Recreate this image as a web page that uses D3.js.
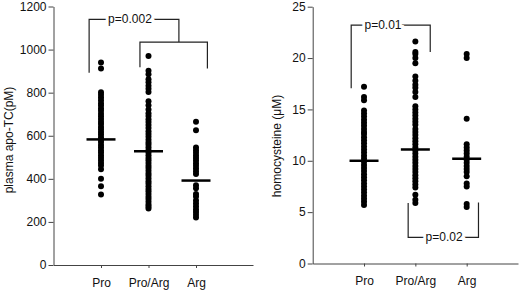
<!DOCTYPE html>
<html>
<head>
<meta charset="utf-8">
<script src="https://cdn.jsdelivr.net/npm/d3@7"></script>
<style>
  body { margin: 0; background: #fff; }
  svg { display: block; font-family: Arial, "Liberation Sans", sans-serif; }
  .axis text { font-size: 12px; fill: #111; }
  .axis path, .axis line { stroke: #444; }
</style>
</head>
<body>
<div id="chart"></div>
<script>
//groups
const genotypes = ["Pro", "Pro/Arg", "Arg"];

//plasma apo-TC (pM), one list per genotype
const apoPro = [940, 912, 802, 790, 777, 765, 751, 740, 727, 716, 702, 691, 678, 665, 654, 641, 630, 617, 606, 593, 582, 571, 557, 546, 533, 522, 509, 498, 486, 473, 462, 445, 400, 365, 327];
const apoProArg = [970, 902, 885, 862, 848, 832, 818, 803, 760, 742, 722, 705, 692, 677, 664, 650, 636, 621, 608, 595, 582, 569, 558, 546, 533, 522, 510, 497, 486, 474, 461, 450, 438, 425, 414, 402, 389, 378, 366, 353, 342, 330, 317, 306, 294, 281, 272, 262];
const apoArg = [665, 625, 545, 533, 521, 508, 497, 485, 472, 461, 448, 435, 422, 370, 356, 330, 318, 300, 286, 271, 258, 246, 233, 221];
const apoMeans = [583, 528, 392];

//homocysteine (uM)
const hcyPro = [17.2, 16.2, 15.9, 14.9, 14.6, 14.3, 14.0, 13.7, 13.4, 13.1, 12.8, 12.6, 12.3, 12.0, 11.7, 11.4, 11.1, 10.8, 10.5, 10.2, 9.9, 9.6, 9.3, 9.0, 8.7, 8.4, 8.1, 7.8, 7.5, 7.2, 6.9, 6.6, 6.3, 6.0, 5.7];
const hcyProArg = [21.6, 20.6, 20.4, 20.0, 19.5, 18.2, 17.8, 17.4, 17.1, 16.7, 16.2, 15.3, 15.0, 14.7, 14.4, 14.1, 13.8, 13.5, 13.1, 12.8, 12.5, 12.2, 11.9, 11.6, 11.3, 11.0, 10.7, 10.4, 10.1, 9.8, 9.5, 9.2, 8.9, 8.6, 8.3, 8.0, 7.7, 7.4, 6.7, 6.2, 5.9];
const hcyArg = [20.4, 20.0, 14.1, 11.6, 11.3, 11.0, 10.7, 10.4, 10.1, 9.8, 9.5, 9.2, 8.9, 8.5, 7.8, 7.5, 5.8, 5.5];
const hcyMeans = [10.0, 11.1, 10.2];

const width = 520;
const height = 290;

const svg = d3.select("#chart")
    .append("svg")
    .attr("width", width)
    .attr("height", height);

//one scatter panel
function panel(opt) {
  const g = svg.append("g");

  const x = d3.scaleLinear().domain(opt.xDomain).range(opt.xRange);
  const y = d3.scaleLinear().domain(opt.yDomain).range(opt.yRange);

  //axes
  g.append("g")
      .attr("class", "axis")
      .attr("transform", `translate(${opt.xRange[0]},0)`)
      .call(d3.axisLeft(y).tickValues(opt.yTicks).tickFormat(d3.format("d"))
          .tickSize(5).tickPadding(2).tickSizeOuter(0));

  g.append("g")
      .attr("class", "axis")
      .attr("transform", `translate(0,${opt.yRange[0]})`)
      .call(d3.axisBottom(x).tickValues([1, 2, 3]).tickFormat((d) => genotypes[d - 1])
          .tickSize(3).tickPadding(10).tickSizeOuter(0));

  //y title
  g.append("text")
      .attr("transform", `translate(${opt.titleX},${opt.titleY}) rotate(-90)`)
      .attr("text-anchor", "middle")
      .attr("dominant-baseline", "central")
      .attr("font-size", 12)
      .attr("fill", "#111")
      .text(opt.title);

  //dots
  opt.series.forEach((vals, i) => {
    g.append("g")
        .selectAll("circle")
        .data(vals)
        .join("circle")
        .attr("cx", x(i + 1))
        .attr("cy", (d) => y(d))
        .attr("r", 3)
        .attr("fill", "#000");
  });

  //mean bars
  g.selectAll("line.mean")
      .data(opt.means)
      .join("line")
      .attr("class", "mean")
      .attr("x1", (d, i) => x(i + 1) - 14.5)
      .attr("x2", (d, i) => x(i + 1) + 14.5)
      .attr("y1", (d) => y(d))
      .attr("y2", (d) => y(d))
      .attr("stroke", "#000")
      .attr("stroke-width", 2.5);

  //significance brackets
  opt.brackets.forEach((b) => {
    g.append("path")
        .attr("d", d3.line()([
          [x(b.x0), y(b.y0)],
          [x(b.x0), y(b.y)],
          [x(b.x1), y(b.y)],
          [x(b.x1), y(b.y1)],
        ]))
        .attr("fill", "none")
        .attr("stroke", "#222")
        .attr("stroke-width", 1.2);
    if (b.label) {
      g.append("text")
          .attr("x", x(b.lx))
          .attr("y", y(b.y))
          .attr("text-anchor", "middle")
          .attr("dominant-baseline", "central")
          .attr("font-size", 12)
          .attr("fill", "#111")
          .attr("stroke", "#fff")
          .attr("stroke-width", 6)
          .attr("paint-order", "stroke")
          .text(b.label);
    }
  });
}

panel({
  xDomain: [0, 4.2],
  xRange: [53.5, 253],
  yDomain: [0, 1200],
  yRange: [265, 6.5],
  yTicks: d3.range(0, 1201, 200),
  title: "plasma apo-TC(pM)",
  titleX: 8.5,
  titleY: 140,
  series: [apoPro, apoProArg, apoArg],
  means: apoMeans,
  brackets: [
    { x0: 0.75, x1: 2.64, y: 1140, y0: 892, y1: 1035, label: "p=0.002", lx: 1.61 },
    { x0: 1.82, x1: 3.24, y: 1035, y0: 918, y1: 912 },
  ],
});

panel({
  xDomain: [0, 4],
  xRange: [312.7, 518],
  yDomain: [0, 25],
  yRange: [263.5, 6.7],
  yTicks: d3.range(0, 26, 5),
  title: "homocysteine (\u03bcM)",
  titleX: 277,
  titleY: 146,
  series: [hcyPro, hcyProArg, hcyArg],
  means: hcyMeans,
  brackets: [
    { x0: 0.75, x1: 2.29, y: 23.2, y0: 17.06, y1: 20.6, label: "p=0.01", lx: 1.37 },
    { x0: 1.86, x1: 3.23, y: 2.55, y0: 5.9, y1: 5.95, label: "p=0.02", lx: 2.56 },
  ],
});
</script>
</body>
</html>
